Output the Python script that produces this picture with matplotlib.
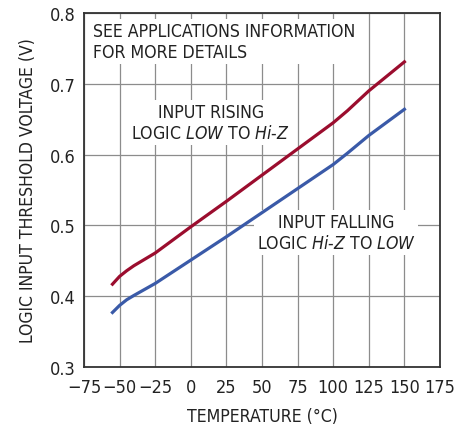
import numpy as np
import matplotlib
matplotlib.use("Agg")
import matplotlib.pyplot as plt

plt.rcParams['font.family'] = ['DejaVu Sans']
plt.rcParams['font.stretch'] = 'condensed'
plt.rcParams['mathtext.fontset'] = 'custom'
plt.rcParams['mathtext.rm'] = 'DejaVu Sans:stretch=condensed'
plt.rcParams['mathtext.it'] = 'DejaVu Sans:italic:stretch=condensed'

# data
temp = [-55, -50, -45, -40, -25, 0, 25, 50, 75, 100, 110, 125, 150]
v_rising = [0.417, 0.428, 0.436, 0.443, 0.461, 0.498, 0.534, 0.571, 0.608, 0.645, 0.662, 0.690, 0.731]
v_falling = [0.377, 0.387, 0.395, 0.401, 0.418, 0.451, 0.484, 0.518, 0.552, 0.586, 0.602, 0.627, 0.664]

x_ticks = [-75, -50, -25, 0, 25, 50, 75, 100, 125, 150, 175]
y_ticks = [0.3, 0.4, 0.5, 0.6, 0.7, 0.8]

fig = plt.figure(figsize=(4.69, 4.27), dpi=100)
ax = fig.add_axes([84/469, 1 - 368/427, 356/469, 354/427])

ax.plot(temp, v_rising, color='#9b0d2e', lw=2.3, zorder=3)
ax.plot(temp, v_falling, color='#3a5aa8', lw=2.3, zorder=3)

ax.set_xlim(-75, 175)
ax.set_ylim(0.3, 0.8)
ax.set_xticks(x_ticks)
ax.set_yticks(y_ticks)
ax.set_yticklabels([f'{v:.1f}' for v in y_ticks])
ax.grid(True, color='#8c8c8c', lw=0.9)
ax.tick_params(length=0, labelsize=13, colors='#222222')
ax.tick_params(axis='x', pad=8)
ax.tick_params(axis='y', pad=6)
for s in ax.spines.values():
    s.set_linewidth(1.3)
    s.set_color('#333333')

ax.set_xlabel('TEMPERATURE (°C)', fontsize=12.7, color='#222222', labelpad=8)
ax.set_ylabel('LOGIC INPUT THRESHOLD VOLTAGE (V)', fontsize=12.6, color='#222222', labelpad=9)

box = dict(facecolor='white', edgecolor='none', pad=2)
ax.text(-69, 0.787, 'SEE APPLICATIONS INFORMATION\nFOR MORE DETAILS', fontsize=12.7,
        va='top', ha='left', linespacing=1.2, color='#222222', bbox=box, zorder=2)
ax.text(14, 0.645, 'INPUT RISING\nLOGIC $\\mathit{LOW}$ TO $\\mathit{Hi}$-$\\mathit{Z}$', fontsize=12.7,
        va='center', ha='center', multialignment='center', linespacing=1.25,
        color='#222222', bbox=box, zorder=2)
ax.text(102, 0.490, 'INPUT FALLING\nLOGIC $\\mathit{Hi}$-$\\mathit{Z}$ TO $\\mathit{LOW}$', fontsize=12.7,
        va='center', ha='center', multialignment='center', linespacing=1.25,
        color='#222222', bbox=box, zorder=2)

fig.savefig('out.png', dpi=100)
